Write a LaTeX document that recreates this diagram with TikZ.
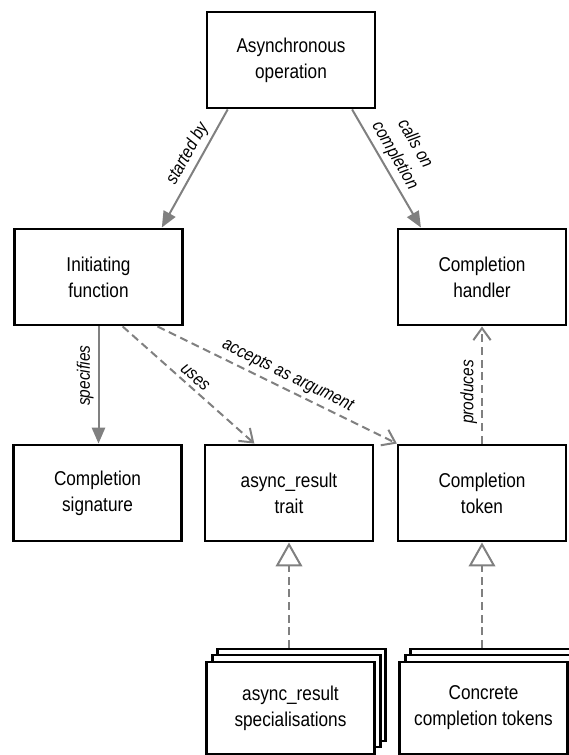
\documentclass[tikz,border=0pt]{standalone}
\usepackage{fontspec}
\setmainfont{Liberation Sans}[FakeStretch=0.86]
\usetikzlibrary{arrows.meta}
\definecolor{arrowColor}{RGB}{128,128,128}
\tikzstyle{diagram} = [x = .75pt, y = -.75pt]
\tikzstyle{boxStyle} = [draw=black, fill=white, line width=1.7pt, minimum width=126pt, minimum height=72.5pt, inner sep=0pt, align=center, font=\fontsize{15}{19.5}\selectfont]
\tikzstyle{stackStyle} = [boxStyle, minimum height=69pt]
\tikzstyle{solidArrow} = [color=arrowColor, line width=1.5pt, -{Triangle[length=12pt, width=10pt]}]
\tikzstyle{dashedArrow} = [color=arrowColor, line width=1.5pt, dash pattern=on 6pt off 3.5pt, -{Straight Barb[length=9pt, width=13pt]}]
\tikzstyle{realizeArrow} = [color=arrowColor, line width=1.5pt, dash pattern=on 6pt off 3.5pt, -{Triangle[open, length=18pt, width=20pt, fill=white]}]
\tikzstyle{labelFont} = [font=\fontsize{13.5}{17.5}\selectfont\itshape, inner sep=3pt, align=center, text=black]
\tikzstyle{edgeText} = [labelFont, sloped, above]
\tikzstyle{upText} = [labelFont, rotate=90, anchor=south]
\newcommand{\stackedBox}[4]{
  \node [stackStyle] (#1C) at (#2 + 11, #3 - 13) {};
  \node [stackStyle] (#1B) at (#2 + 6, #3 - 7) {};
  \node [stackStyle] (#1) at (#2, #3) {#4};
}
\begin{document}
\begin{tikzpicture}[diagram]
  \useasboundingbox (0,0) rectangle (568,755);
  % top row
  \node [boxStyle] (aop) at (291,60) {Asynchronous\\operation};
  \node [boxStyle] (init) at (98.5,277) {Initiating\\function};
  \node [boxStyle] (handler) at (482,277) {Completion\\handler};
  % middle row
  \node [boxStyle] (signature) at (97.5,493) {Completion\\signature};
  \node [boxStyle] (trait) at (289,493) {async\_result\\trait};
  \node [boxStyle] (token) at (482,493) {Completion\\token};
  % stacks
  \stackedBox{spec}{290.5}{708}{async\_result\\specialisations}
  \stackedBox{concrete}{483.5}{708}{Concrete\\completion tokens}

  \draw [solidArrow] (aop.218) -- node [edgeText, pos=.43] {started by} (init.38);
  \draw [solidArrow] (aop.321) -- node [edgeText, pos=.45] {calls on\\completion} (handler.141);
  \draw [solidArrow] (init.south) -- node [upText, pos=.42] {specifies} (init.south |- signature.north);
  \draw [dashedArrow] (init.296) -- node [edgeText] {uses} (trait.125);
  \draw [dashedArrow] (init.320) -- node [edgeText, pos=.52] {accepts as argument} (token.north west);
  \draw [dashedArrow] (token.north) -- node [upText, pos=.44] {produces} (handler.south);
  \draw [realizeArrow] (specC.north -| trait.south) -- (trait.south);
  \draw [realizeArrow] (concreteC.north -| token.south) -- (token.south);
\end{tikzpicture}
\end{document}
